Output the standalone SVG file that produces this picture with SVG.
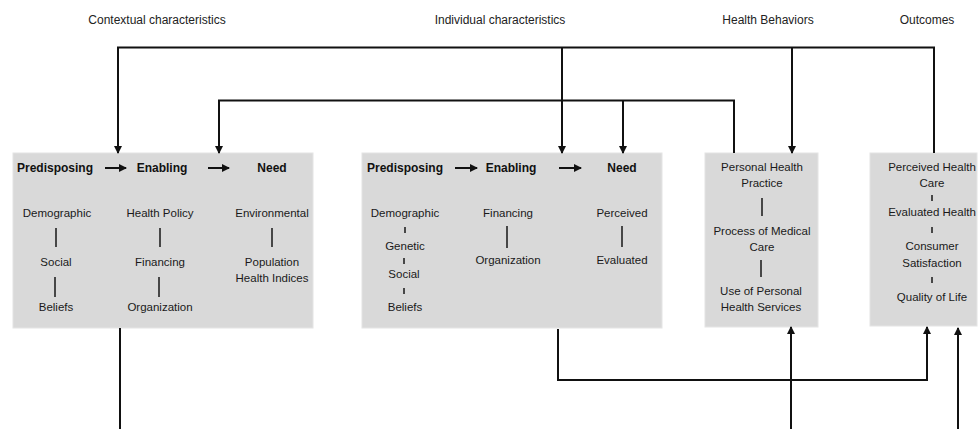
<svg xmlns="http://www.w3.org/2000/svg" width="978" height="429" viewBox="0 0 978 429">
<defs>
<marker id="ah" markerWidth="8" markerHeight="8" refX="7" refY="4" orient="auto-start-reverse" markerUnits="userSpaceOnUse">
<path d="M0,0 L8,4 L0,8 Z" fill="#111"/>
</marker>
<style>
.box{fill:#d9d9d9;stroke:#e4e4e4;stroke-width:1}
.t{font-family:"Liberation Sans",Arial,sans-serif;font-size:11.5px;fill:#1a1a1a;text-anchor:middle}
.h{font-family:"Liberation Sans",Arial,sans-serif;font-size:12px;font-weight:bold;fill:#111;text-anchor:middle}
.hd{font-family:"Liberation Sans",Arial,sans-serif;font-size:12px;fill:#222;text-anchor:middle}
.c{fill:none;stroke:#111;stroke-width:2}
.v{stroke:#222;stroke-width:1.6}
.ia{stroke:#111;stroke-width:2;marker-end:url(#ah)}
</style>
</defs>
<rect width="978" height="429" fill="#fff"/>
<g id="headers">
<text class="hd" x="157" y="24">Contextual characteristics</text>
<text class="hd" x="500" y="24">Individual characteristics</text>
<text class="hd" x="768" y="24">Health Behaviors</text>
<text class="hd" x="927" y="24">Outcomes</text>
</g>
<g id="contextual">
<rect class="box" x="13" y="153" width="300" height="175"/>
<text class="h" x="55" y="172">Predisposing</text>
<line class="ia" x1="105" y1="168" x2="126" y2="168"/>
<text class="h" x="162" y="172">Enabling</text>
<line class="ia" x1="208" y1="168" x2="229" y2="168"/>
<text class="h" x="272" y="172">Need</text>
<text class="t" x="57" y="217">Demographic</text>
<line class="v" x1="56" y1="228" x2="56" y2="247"/>
<text class="t" x="56" y="266">Social</text>
<line class="v" x1="55" y1="277" x2="55" y2="297"/>
<text class="t" x="56" y="311">Beliefs</text>
<text class="t" x="160" y="217">Health Policy</text>
<line class="v" x1="160" y1="228" x2="160" y2="247"/>
<text class="t" x="160" y="266">Financing</text>
<line class="v" x1="159" y1="277" x2="159" y2="297"/>
<text class="t" x="160" y="311">Organization</text>
<text class="t" x="272" y="217">Environmental</text>
<line class="v" x1="272" y1="228" x2="272" y2="247"/>
<text class="t" x="272" y="266">Population</text>
<text class="t" x="272" y="282">Health Indices</text>
</g>
<g id="individual">
<rect class="box" x="362" y="153" width="300" height="175"/>
<text class="h" x="405" y="172">Predisposing</text>
<line class="ia" x1="455" y1="168" x2="477" y2="168"/>
<text class="h" x="511" y="172">Enabling</text>
<line class="ia" x1="559" y1="168" x2="581" y2="168"/>
<text class="h" x="622" y="172">Need</text>
<text class="t" x="405" y="217">Demographic</text>
<line class="v" x1="405" y1="227" x2="405" y2="233"/>
<text class="t" x="405" y="250">Genetic</text>
<line class="v" x1="404" y1="258" x2="404" y2="264"/>
<text class="t" x="404" y="278">Social</text>
<line class="v" x1="404" y1="288" x2="404" y2="294"/>
<text class="t" x="405" y="311">Beliefs</text>
<text class="t" x="508" y="217">Financing</text>
<line class="v" x1="507" y1="226" x2="507" y2="248"/>
<text class="t" x="508" y="264">Organization</text>
<text class="t" x="622" y="217">Perceived</text>
<line class="v" x1="622" y1="226" x2="622" y2="247"/>
<text class="t" x="622" y="264">Evaluated</text>
</g>
<g id="behaviors">
<rect class="box" x="705" y="153" width="113" height="174"/>
<text class="t" x="762" y="171">Personal Health</text>
<text class="t" x="762" y="187">Practice</text>
<line class="v" x1="762" y1="198" x2="762" y2="216"/>
<text class="t" x="762" y="235">Process of Medical</text>
<text class="t" x="762" y="251">Care</text>
<line class="v" x1="761" y1="260" x2="761" y2="277"/>
<text class="t" x="761" y="295">Use of Personal</text>
<text class="t" x="761" y="311">Health Services</text>
</g>
<g id="outcomes">
<rect class="box" x="870" y="153" width="107" height="173"/>
<text class="t" x="932" y="171">Perceived Health</text>
<text class="t" x="932" y="187">Care</text>
<line class="v" x1="932" y1="195" x2="932" y2="201"/>
<text class="t" x="932" y="216">Evaluated Health</text>
<line class="v" x1="932" y1="227" x2="932" y2="233"/>
<text class="t" x="932" y="250">Consumer</text>
<text class="t" x="932" y="267">Satisfaction</text>
<line class="v" x1="932" y1="277" x2="932" y2="283"/>
<text class="t" x="932" y="301">Quality of Life</text>
</g>
<g id="connectors">
<polyline class="c" points="118,153 118,47.5 934,47.5 934,153" marker-start="url(#ah)"/>
<line class="c" x1="562" y1="47.5" x2="562" y2="153" marker-end="url(#ah)"/>
<line class="c" x1="792" y1="47.5" x2="792" y2="153" marker-end="url(#ah)"/>
<polyline class="c" points="219,153 219,100.5 734,100.5 734,153" marker-start="url(#ah)"/>
<line class="c" x1="623" y1="100.5" x2="623" y2="153" marker-end="url(#ah)"/>
<line class="c" x1="120" y1="328" x2="120" y2="429"/>
<polyline class="c" points="558,329 558,380 927,380 927,327" marker-end="url(#ah)"/>
<line class="c" x1="791" y1="429" x2="791" y2="327" marker-end="url(#ah)"/>
<line class="c" x1="958" y1="429" x2="958" y2="328" marker-end="url(#ah)"/>
</g>
</svg>
